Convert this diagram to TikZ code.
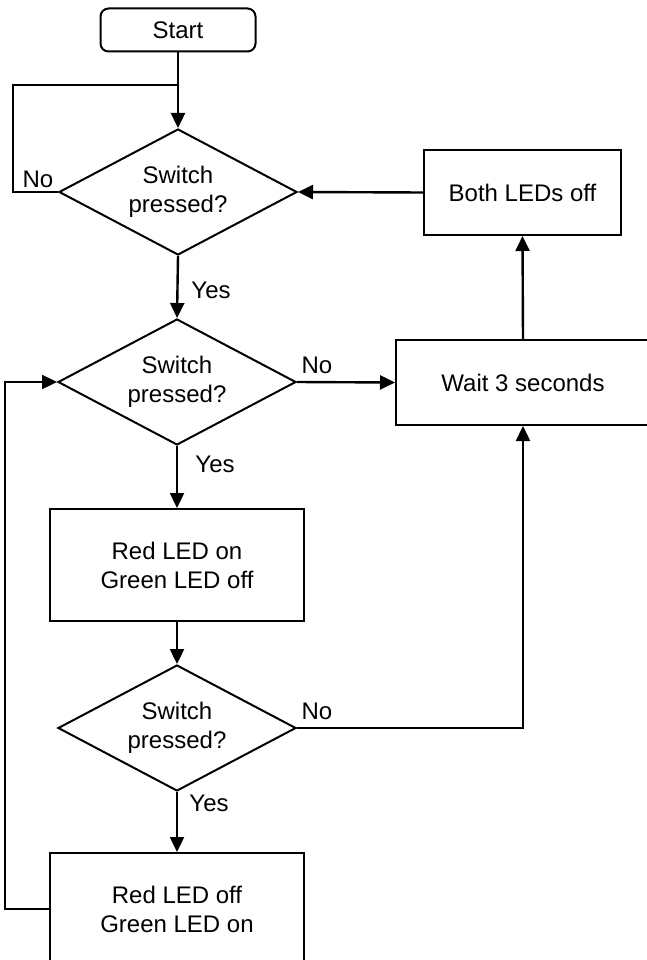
\documentclass[tikz,border=0pt]{standalone}
\usepackage{fontspec}
\setmainfont{Liberation Sans}
\usetikzlibrary{shapes.geometric,arrows.meta}
\begin{document}
\begin{tikzpicture}[x=1pt,y=-1pt,
  every node/.style={font=\fontsize{24}{29}\selectfont, align=center, inner sep=0pt},
  shapebox/.style={draw, line width=2pt, rectangle, minimum width=254pt, minimum height=112pt},
  startbox/.style={draw, line width=2pt, rectangle, rounded corners=8pt, minimum width=155pt, minimum height=43pt},
  decision/.style={draw, line width=2pt, diamond, aspect=1.9, minimum width=238pt, minimum height=126pt},
  flow/.style={line width=2.4pt, -{Triangle[length=15pt,width=14pt]}},
  plainline/.style={line width=2.4pt},
  lbl/.style={anchor=center}]
\useasboundingbox (0,0) rectangle (647,960);
\node[startbox] (start) at (178,30) {Start};
\node[decision] (d1) at (178,192) {Switch\\pressed?};
\node[shapebox, minimum width=197pt, minimum height=85pt] (both) at (522.5,192.5) {Both LEDs off};
\node[decision] (d2) at (177,382) {Switch\\pressed?};
\node[shapebox, minimum height=85pt] (wait) at (523,382.5) {Wait 3 seconds};
\node[shapebox] (red1) at (177,565) {Red LED on\\Green LED off};
\node[decision] (d3) at (177,728) {Switch\\pressed?};
\node[shapebox] (red2) at (177,909) {Red LED off\\Green LED on};
\coordinate (j1) at (178,85);
\coordinate (c1) at (13,192);
\coordinate (c2) at (5,909);
\node[lbl] (no1) at (38,179) {No};
\node[lbl] (yes1) at (211,290) {Yes};
\node[lbl] (no2) at (317,365) {No};
\node[lbl] (yes2) at (215,464) {Yes};
\node[lbl] (no3) at (317,711) {No};
\node[lbl] (yes3) at (209,803) {Yes};
\draw[flow] (start.south) -- (d1.north);
\draw[plainline] (d1.west) -- (c1) |- (j1);
\draw[flow] (both.west) -- (d1.east);
\draw[flow] (d1.south) -- (d2.north);
\draw[flow] (d2.east) -- (wait.west);
\draw[flow] (wait.north) -- (both.south);
\draw[flow] (d2.south) -- (red1.north);
\draw[flow] (red1.south) -- (d3.north);
\draw[flow] (d3.east) -| (wait.south);
\draw[flow] (d3.south) -- (red2.north);
\draw[flow] (red2.west) -- (c2) |- (d2.west);
\end{tikzpicture}
\end{document}
